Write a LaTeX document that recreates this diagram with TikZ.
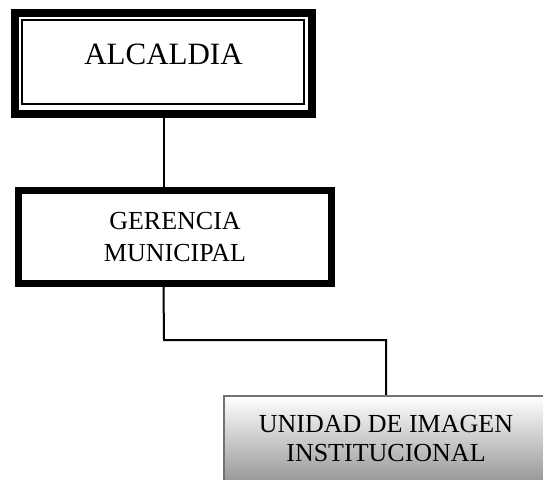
\documentclass[tikz,border=0pt]{standalone}
\usepackage{fontspec}
\setmainfont{Liberation Serif}
\begin{document}
\begin{tikzpicture}[x=1pt,y=-1pt,
  topbox/.style={draw=black,line width=8pt,fill=white,minimum width=297pt,minimum height=101pt,
    font=\fontsize{31}{37}\selectfont,text height=22pt,text depth=21pt,inner sep=0pt},
  innerframe/.style={draw=black,line width=2pt},
  midbox/.style={draw=black,line width=7pt,fill=white,minimum width=313pt,minimum height=93pt,
    font=\fontsize{26}{32}\selectfont,align=center,inner sep=0pt},
  lowbox/.style={draw=black!55,line width=2.5pt,top color=white,bottom color=black!40,
    minimum width=324pt,minimum height=85pt,font=\fontsize{26}{29}\selectfont,align=center,inner sep=0pt},
  link/.style={draw=black,line width=2pt}]
\useasboundingbox (0,0) rectangle (543,479);
\node[topbox] (alc) at (163.5,63.5) {ALCALDIA};
\draw[innerframe] (21.5,20) rectangle (304,104);
\node[midbox] (ger) at (175,237) {GERENCIA\\MUNICIPAL};
\node[lowbox] (uni) at (386,438.5) {UNIDAD DE IMAGEN\\INSTITUCIONAL};
\coordinate (c1) at (alc.south |- ger.north);
\coordinate (c2) at (alc.south |- ger.south);
\coordinate (c3) at (164,340);
\draw[link] (alc.south) -- (c1);
\draw[link] (c2) -- (c3) -| (uni.north);
\end{tikzpicture}
\end{document}
